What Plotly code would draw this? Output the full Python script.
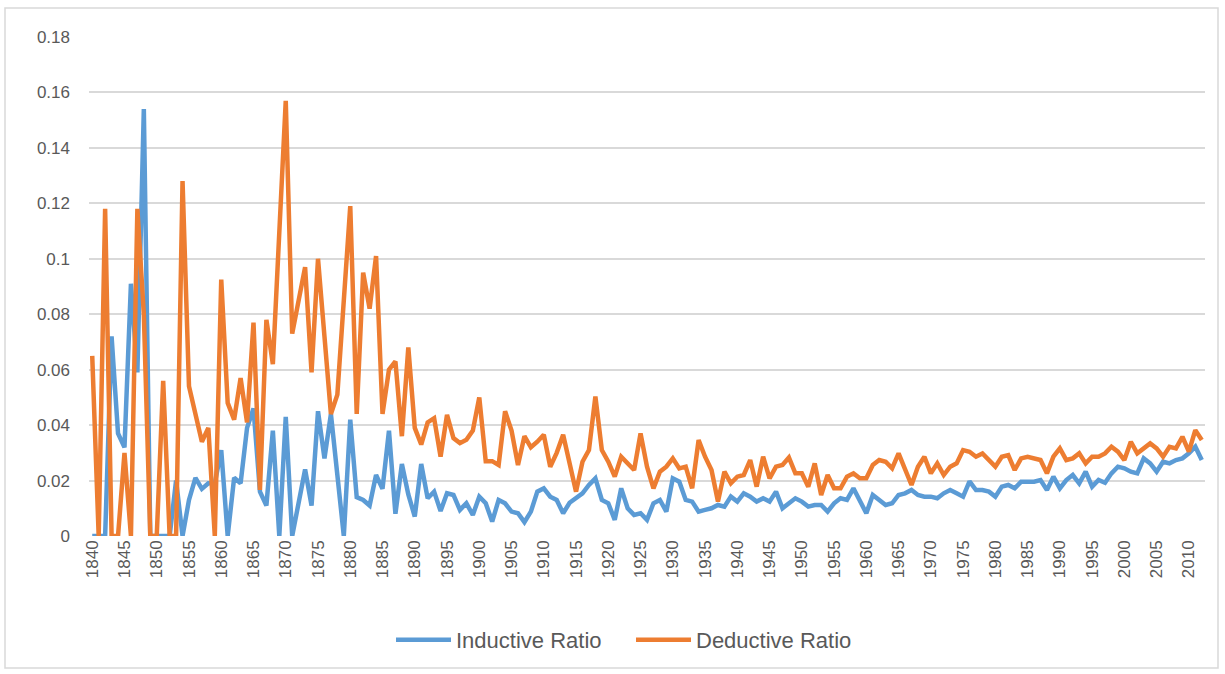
import plotly.graph_objects as go

years = list(range(1840, 2013))

inductive_ratio = [
    0, 0, 0, 0.072, 0.037, 0.032, 0.091, 0.059, 0.154, 0,            # 1840-1849
    0, 0, 0, 0.02, 0, 0.013, 0.021, 0.017, 0.019, 0.019,              # 1850-1859
    0.031, 0, 0.021, 0.019, 0.039, 0.046, 0.016, 0.011, 0.038, 0,     # 1860-1869
    0.043, 0, 0.012, 0.024, 0.011, 0.045, 0.028, 0.044, 0.022, 0,     # 1870-1879
    0.042, 0.014, 0.013, 0.011, 0.022, 0.017, 0.038, 0.008, 0.026, 0.015,  # 1880-1889
    0.007, 0.026, 0.0136, 0.016, 0.009, 0.0154, 0.0148, 0.0094, 0.0118, 0.0076,  # 1890-1899
    0.0142, 0.0118, 0.0052, 0.013, 0.0118, 0.0088, 0.0082, 0.005, 0.0088, 0.016,  # 1900-1909
    0.0172, 0.0142, 0.013, 0.0082, 0.012, 0.0136, 0.0154, 0.0184, 0.0208, 0.013,  # 1910-1919
    0.0118, 0.0058, 0.0172, 0.01, 0.0076, 0.0082, 0.0058, 0.0118, 0.013, 0.0088,  # 1920-1929
    0.0208, 0.0196, 0.013, 0.0124, 0.0088, 0.0094, 0.01, 0.0112, 0.0106, 0.0142,  # 1930-1939
    0.0124, 0.0154, 0.0142, 0.0124, 0.0136, 0.0124, 0.016, 0.01, 0.0118, 0.0136,  # 1940-1949
    0.0124, 0.0106, 0.0112, 0.0112, 0.0088, 0.0118, 0.0136, 0.013, 0.0172, 0.013,  # 1950-1959
    0.0082, 0.0148, 0.013, 0.0112, 0.0118, 0.0148, 0.0154, 0.0166, 0.0148, 0.0142,  # 1960-1969
    0.0142, 0.0136, 0.0154, 0.0166, 0.0154, 0.0142, 0.0197, 0.0166, 0.0166, 0.016,  # 1970-1979
    0.0142, 0.0178, 0.0184, 0.0172, 0.0196, 0.0196, 0.0196, 0.0202, 0.0166, 0.0214,  # 1980-1989
    0.0172, 0.0202, 0.022, 0.019, 0.0232, 0.0178, 0.0202, 0.0192, 0.0226, 0.025,  # 1990-1999
    0.0244, 0.0232, 0.0226, 0.028, 0.0262, 0.0232, 0.0268, 0.0262, 0.0274, 0.028,  # 2000-2009
    0.0298, 0.0322, 0.0274,                                            # 2010-2012
]

deductive_ratio = [
    0.065, 0, 0.118, 0, 0, 0.030, 0, 0.118, 0.08, 0,                  # 1840-1849
    0, 0.056, 0, 0, 0.128, 0.054, 0.044, 0.034, 0.039, 0,             # 1850-1859
    0.0925, 0.048, 0.042, 0.057, 0.041, 0.077, 0.0166, 0.078, 0.062, 0.11,  # 1860-1869
    0.157, 0.073, 0.085, 0.097, 0.059, 0.100, 0.072, 0.044, 0.051, 0.085,   # 1870-1879
    0.119, 0.044, 0.095, 0.082, 0.101, 0.044, 0.060, 0.063, 0.036, 0.068,   # 1880-1889
    0.039, 0.033, 0.041, 0.0425, 0.0286, 0.0437, 0.0353, 0.0335, 0.0347, 0.038,  # 1890-1899
    0.050, 0.027, 0.027, 0.0256, 0.045, 0.038, 0.0256, 0.036, 0.032, 0.034,  # 1900-1909
    0.0365, 0.025, 0.030, 0.0365, 0.027, 0.016, 0.0268, 0.031, 0.0503, 0.031,  # 1910-1919
    0.0268, 0.0214, 0.0286, 0.0262, 0.0238, 0.037, 0.025, 0.0172, 0.0232, 0.025,  # 1920-1929
    0.028, 0.0244, 0.025, 0.0172, 0.0346, 0.0286, 0.0238, 0.0124, 0.0232, 0.019,  # 1930-1939
    0.0214, 0.022, 0.0274, 0.0178, 0.0286, 0.0208, 0.025, 0.0256, 0.0283, 0.0226,  # 1940-1949
    0.0226, 0.0178, 0.0262, 0.0148, 0.022, 0.0172, 0.0172, 0.0214, 0.0226, 0.0208,  # 1950-1959
    0.0208, 0.0256, 0.0274, 0.0268, 0.0244, 0.0298, 0.0238, 0.0184, 0.025, 0.0286,  # 1960-1969
    0.0226, 0.0262, 0.022, 0.025, 0.0262, 0.031, 0.0304, 0.0286, 0.0298, 0.0274,  # 1970-1979
    0.025, 0.0286, 0.0292, 0.0238, 0.028, 0.0286, 0.028, 0.0274, 0.0226, 0.0286,  # 1980-1989
    0.0316, 0.0274, 0.028, 0.0298, 0.0262, 0.0286, 0.0286, 0.0298, 0.0322, 0.0304,  # 1990-1999
    0.0274, 0.034, 0.0298, 0.0316, 0.0334, 0.0316, 0.0286, 0.0322, 0.0316, 0.0358,  # 2000-2009
    0.0304, 0.0382, 0.0346,                                            # 2010-2012
]

x_tick_years = list(range(1840, 2011, 5))
y_tick_vals = [0, 0.02, 0.04, 0.06, 0.08, 0.1, 0.12, 0.14, 0.16, 0.18]
y_tick_text = ["0", "0.02", "0.04", "0.06", "0.08", "0.1", "0.12", "0.14", "0.16", "0.18"]

BLUE = "#5B9BD5"
ORANGE = "#ED7D31"
TEXT = "#595959"
GRID = "#D9D9D9"
FONT = "Liberation Sans, Arial, sans-serif"

fig = go.Figure()
fig.add_trace(go.Scatter(x=years, y=inductive_ratio, mode="lines", name="Inductive Ratio",
                         line=dict(color=BLUE, width=4.5, shape="linear"), legend="legend"))
fig.add_trace(go.Scatter(x=years, y=deductive_ratio, mode="lines", name="Deductive Ratio",
                         line=dict(color=ORANGE, width=4.5, shape="linear"), legend="legend2"))

L, R, T, B = 89, 20, 37, 138
W, H = 1225, 674
pw = W - L - R
ph = H - T - B

def px(xp):
    return (xp - L) / pw

def py(yp):
    return (H - B - yp) / ph

legend_common = dict(orientation="h", yanchor="middle", y=py(640), xanchor="left",
                     font=dict(size=22, color=TEXT, family=FONT), itemwidth=55,
                     bgcolor="rgba(0,0,0,0)", borderwidth=0)

fig.update_layout(
    width=W, height=H,
    margin=dict(l=L, r=R, t=T, b=B),
    paper_bgcolor="white", plot_bgcolor="white",
    font=dict(family=FONT, color=TEXT, size=16),
    showlegend=True,
    legend=dict(x=px(391), **legend_common),
    legend2=dict(x=px(631), **legend_common),
    xaxis=dict(range=[1839.5, 2012.5], tickmode="array", tickvals=x_tick_years,
               ticktext=[str(v) for v in x_tick_years], tickangle=-90,
               showgrid=False, zeroline=False, showline=False, ticks="",
               tickfont=dict(size=17, color=TEXT)),
    yaxis=dict(range=[0, 0.18], tickmode="array", tickvals=y_tick_vals, ticktext=y_tick_text,
               showgrid=True, gridcolor=GRID, gridwidth=1.5, zeroline=False,
               showline=False, ticks="", ticklabelstandoff=18,
               tickfont=dict(size=17, color=TEXT)),
    shapes=[dict(type="rect", xref="paper", yref="paper",
                 x0=px(5), x1=px(1218), y0=py(668), y1=py(8),
                 line=dict(color="#D9D9D9", width=1.5), fillcolor="rgba(0,0,0,0)",
                 layer="below")],
)

fig.write_html("out.html", config={"displayModeBar": False},
               post_script="document.body.style.margin='0';document.body.style.padding='0';")
